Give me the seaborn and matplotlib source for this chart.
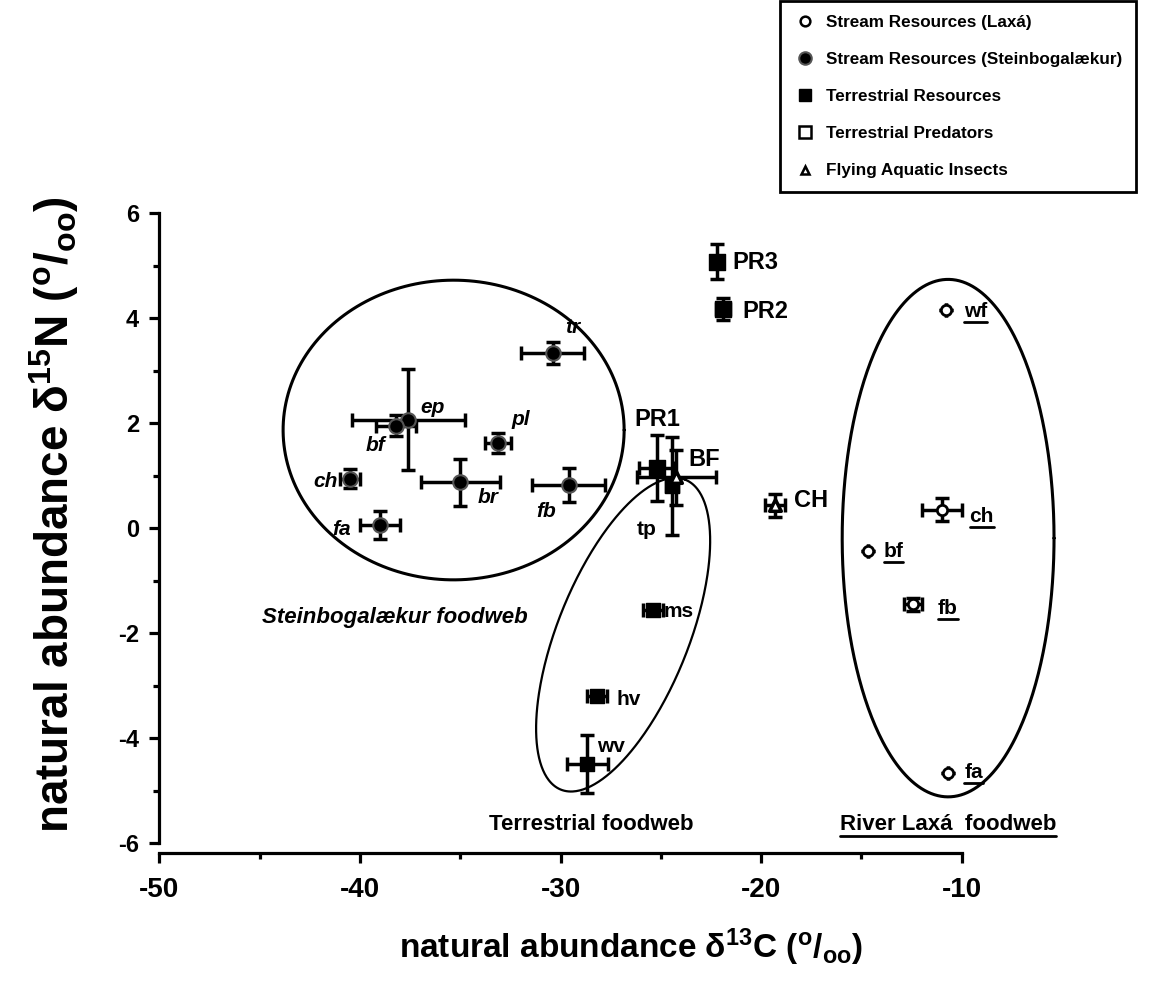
import numpy as np
import pandas as pd
import matplotlib
matplotlib.use("Agg")
import matplotlib.pyplot as plt
from matplotlib.lines import Line2D
import seaborn as sns

# ---------------- data ----------------
stein_labels = ["tr", "ep", "bf", "pl", "ch", "br", "fb", "fa"]
stein_x = [-30.4, -37.6, -38.2, -33.1, -40.5, -35.0, -29.6, -39.0]
stein_y = [3.34, 2.07, 1.95, 1.62, 0.94, 0.87, 0.82, 0.06]
stein_xerr = [1.57, 2.82, 1.0, 0.65, 0.51, 1.97, 1.83, 1.02]
stein_yerr = [0.21, 0.96, 0.20, 0.19, 0.18, 0.44, 0.33, 0.26]
stein_lab_x = [-29.4, -36.4, -39.2, -32.0, -41.7, -33.6, -30.7, -40.9]
stein_lab_y = [3.83, 2.30, 1.58, 2.07, 0.89, 0.58, 0.31, -0.02]

terr_labels = ["tp", "ms", "hv", "wv"]
terr_x = [-24.46, -25.37, -28.17, -28.66]
terr_y = [0.80, -1.56, -3.20, -4.50]
terr_xerr = [0.3, 0.5, 0.5, 1.04]
terr_yerr = [0.93, 0.10, 0.10, 0.55]
terr_lab_x = [-25.7, -24.1, -26.6, -27.5]
terr_lab_y = [-0.03, -1.59, -3.26, -4.16]

pred_labels = ["PR1", "PR2", "PR3"]
pred_x = [-25.2, -21.91, -22.18]
pred_y = [1.14, 4.18, 5.08]
pred_xerr = [0.9, 0.35, 0.2]
pred_yerr = [0.63, 0.21, 0.33]
pred_lab_x = [-25.2, -19.8, -20.3]
pred_lab_y = [2.07, 4.12, 5.06]

ins_labels = ["BF", "CH"]
ins_x = [-24.24, -19.31]
ins_y = [0.97, 0.44]
ins_xerr = [1.97, 0.52]
ins_yerr = [0.52, 0.22]
ins_lab_x = [-22.85, -17.5]
ins_lab_y = [1.31, 0.52]

lax_labels = ["wf", "ch", "bf", "fb", "fa"]
lax_x = [-10.78, -11.0, -14.66, -12.41, -10.68]
lax_y = [4.16, 0.35, -0.43, -1.45, -4.66]
lax_xerr = [0.0, 1.0, 0.0, 0.45, 0.0]
lax_yerr = [0.0, 0.22, 0.0, 0.12, 0.0]
lax_lab_x = [-9.3, -9.0, -13.4, -10.7, -9.4]
lax_lab_y = [4.12, 0.23, -0.45, -1.53, -4.66]

legend_labels = ["Stream Resources (Laxá)", "Stream Resources (Steinbogalækur)",
                 "Terrestrial Resources", "Terrestrial Predators", "Flying Aquatic Insects"]

x_ticks = [-50, -40, -30, -20, -10]
y_ticks = [-6, -4, -2, 0, 2, 4, 6]

# ---------------- style ----------------
sns.set_theme(style="ticks")
plt.rcParams["font.family"] = ["Liberation Sans", "DejaVu Sans"]
plt.rcParams["font.weight"] = "bold"
plt.rcParams["text.color"] = "black"
plt.rcParams["axes.labelcolor"] = "black"
plt.rcParams["xtick.color"] = "black"
plt.rcParams["ytick.color"] = "black"
plt.rcParams["axes.edgecolor"] = "black"
plt.rcParams["mathtext.fontset"] = "custom"
plt.rcParams["mathtext.rm"] = "Liberation Sans:bold"
plt.rcParams["mathtext.bf"] = "Liberation Sans:bold"
plt.rcParams["mathtext.it"] = "Liberation Sans:bold:italic"

fig = plt.figure(figsize=(11.63, 9.91), dpi=100)
ax = fig.add_axes([0.137, 0.1493, 0.8107, 0.6355])

for s in ["top", "right"]:
    ax.spines[s].set_visible(False)
ax.spines["bottom"].set_position(("outward", 7))

ax.set_xlim(-50, -3)
ax.set_ylim(-6, 6)

# ellipses (data-space affine ellipses)
t = np.linspace(0, 2 * np.pi, 400)
ax.plot(-35.33 + 8.5 * np.cos(t), 1.87 + 2.855 * np.sin(t), color="black", lw=2.2)
ax.plot(-26.88 + 3.105 * np.cos(t) + 3.03 * np.sin(t),
        -2.03 + 2.952 * np.cos(t) - 0.465 * np.sin(t), color="black", lw=1.6)
ax.plot(-10.68 + 5.28 * np.cos(t), -0.19 + 4.93 * np.sin(t), color="black", lw=2.2)

ekw = dict(fmt="none", ecolor="black", elinewidth=2.5, capsize=5, capthick=2.5, zorder=3)
ax.errorbar(stein_x, stein_y, xerr=stein_xerr, yerr=stein_yerr, **ekw)
ax.errorbar(terr_x, terr_y, xerr=terr_xerr, yerr=terr_yerr, **ekw)
ax.errorbar(pred_x, pred_y, xerr=pred_xerr, yerr=pred_yerr, **ekw)
ax.errorbar(ins_x, ins_y, xerr=ins_xerr, yerr=ins_yerr, **ekw)
ax.errorbar(lax_x, lax_y, xerr=lax_xerr, yerr=lax_yerr, **ekw)

df_st = pd.DataFrame({"x": stein_x, "y": stein_y})
df_te = pd.DataFrame({"x": terr_x, "y": terr_y})
df_pr = pd.DataFrame({"x": pred_x, "y": pred_y})
df_in = pd.DataFrame({"x": ins_x, "y": ins_y})
df_la = pd.DataFrame({"x": lax_x, "y": lax_y})

sns.scatterplot(data=df_st, x="x", y="y", ax=ax, marker="o", s=110, color="black",
                edgecolor="#555555", linewidth=1.5, zorder=4, legend=False)
sns.scatterplot(data=df_te, x="x", y="y", ax=ax, marker="s", s=100, color="black",
                edgecolor="black", linewidth=1, zorder=4, legend=False)
sns.scatterplot(data=df_pr, x="x", y="y", ax=ax, marker="s", s=140, color="black",
                edgecolor="black", linewidth=1, zorder=4, legend=False)
sns.scatterplot(data=df_in, x="x", y="y", ax=ax, marker="^", s=70, color="white",
                edgecolor="black", linewidth=2.5, zorder=4, legend=False)
sns.scatterplot(data=df_la, x="x", y="y", ax=ax, marker="o", s=55, color="white",
                edgecolor="black", linewidth=2, zorder=4, legend=False)

for lab, x, y in zip(stein_labels, stein_lab_x, stein_lab_y):
    ax.text(x, y, lab, fontsize=15, fontweight="bold", fontstyle="italic",
            ha="center", va="center", zorder=5)
for lab, x, y in zip(terr_labels, terr_lab_x, terr_lab_y):
    ax.text(x, y, lab, fontsize=15, fontweight="bold", ha="center", va="center", zorder=5)
for lab, x, y in zip(pred_labels, pred_lab_x, pred_lab_y):
    ax.text(x, y, lab, fontsize=17, fontweight="bold", ha="center", va="center", zorder=5)
for lab, x, y in zip(ins_labels, ins_lab_x, ins_lab_y):
    ax.text(x, y, lab, fontsize=17, fontweight="bold", ha="center", va="center", zorder=5)
under = []
for lab, x, y in zip(lax_labels, lax_lab_x, lax_lab_y):
    under.append(ax.text(x, y, lab, fontsize=15, fontweight="bold", ha="center",
                         va="center", zorder=5))

ax.text(-38.25, -1.7, "Steinbogalækur foodweb", fontsize=16, fontweight="bold",
        fontstyle="italic", ha="center", va="center")
ax.text(-28.47, -5.65, "Terrestrial foodweb", fontsize=16, fontweight="bold",
        ha="center", va="center")
under.append(ax.text(-10.68, -5.65, "River Laxá  foodweb", fontsize=16, fontweight="bold",
                     ha="center", va="center"))

# axes styling
ax.set_xticks(x_ticks)
ax.set_xticks([-45, -35, -25, -15], minor=True)
ax.set_yticks(y_ticks)
ax.set_yticks([-5, -3, -1, 1, 3, 5], minor=True)
ax.set_xticklabels([str(v) for v in x_ticks])
ax.set_yticklabels([str(v) for v in y_ticks])
ax.spines["left"].set_linewidth(2.3)
ax.spines["bottom"].set_linewidth(2.3)
ax.spines["bottom"].set_bounds(-50, -10)
ax.tick_params(which="major", length=7.5, width=2.3, color="black")
ax.tick_params(which="minor", length=4.5, width=2.3, color="black")
ax.tick_params(axis="x", which="major", labelsize=20, pad=10)
ax.tick_params(axis="y", which="major", labelsize=17, pad=7)
for lb in ax.get_xticklabels() + ax.get_yticklabels():
    lb.set_fontweight("bold")

ax.set_xlabel(r"natural abundance δ$^{\mathbf{13}}$C ($^{\mathbf{o}}$/$_{\mathbf{oo}}$)",
              fontsize=24, fontweight="bold", labelpad=17)
ax.set_ylabel(r"natural abundance δ$^{\mathbf{15}}$N ($^{\mathbf{o}}$/$_{\mathbf{oo}}$)",
              fontsize=33, fontweight="bold")
ax.yaxis.set_label_coords(-0.083, 0.522)

handles = [
    Line2D([], [], marker="o", ls="none", markersize=7, markerfacecolor="white",
           markeredgecolor="black", markeredgewidth=1.8),
    Line2D([], [], marker="o", ls="none", markersize=9, markerfacecolor="black",
           markeredgecolor="#555555", markeredgewidth=1.5),
    Line2D([], [], marker="s", ls="none", markersize=8, markerfacecolor="black",
           markeredgecolor="black"),
    Line2D([], [], marker="s", ls="none", markersize=8, markerfacecolor="white",
           markeredgecolor="black", markeredgewidth=1.8),
    Line2D([], [], marker="^", ls="none", markersize=6, markerfacecolor="white",
           markeredgecolor="black", markeredgewidth=1.8),
]
leg = fig.legend(handles, legend_labels, loc="upper right", bbox_to_anchor=(0.977, 0.999),
                 frameon=True, fancybox=False, edgecolor="black", framealpha=1,
                 prop={"weight": "bold", "size": 12.3}, labelspacing=1.3,
                 handletextpad=0.6, borderpad=0.8, handlelength=1.3, borderaxespad=0)
leg.get_frame().set_linewidth(2)

fig.canvas.draw()
r = fig.canvas.get_renderer()
for tx in under:
    bb = tx.get_window_extent(r)
    fig.add_artist(Line2D([bb.x0, bb.x1], [bb.y0 - 1, bb.y0 - 1], transform=None,
                          color="black", lw=2))

fig.savefig("out.png", dpi=100)
